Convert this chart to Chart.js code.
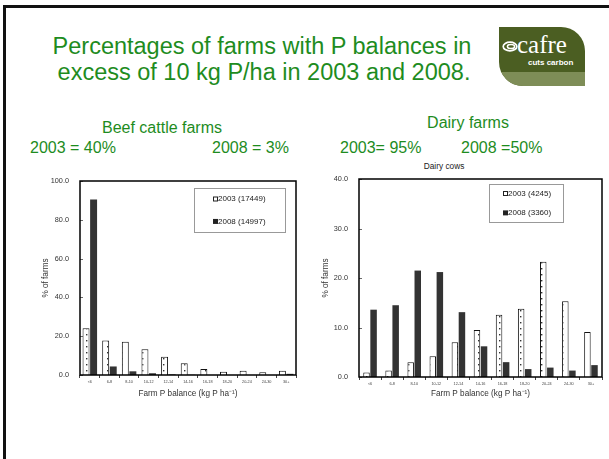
<!DOCTYPE html>
<html><head><meta charset="utf-8">
<script src="https://cdn.jsdelivr.net/npm/chart.js@4/dist/chart.umd.min.js"></script>
<style>
body{margin:0;width:609px;height:459px;overflow:hidden;background:#fff;font-family:"Liberation Sans",Arial,sans-serif;position:relative}
.frame{position:absolute;left:3px;top:5px;width:640px;height:480px;border-left:3px solid #111;border-top:3px solid #111}
.t{position:absolute;color:#1e8c1e;white-space:nowrap;line-height:1;transform:translate(-50%,-50%)}
.l{position:absolute;color:#1e8c1e;white-space:nowrap;line-height:1;transform:translateY(-50%)}
canvas{position:absolute}
.logo{position:absolute;left:499px;top:27px;width:86px;height:59px;background:#4b5e22;border-radius:0 24px 0 24px;overflow:hidden}
.band{position:absolute;left:0;bottom:0;width:100%;height:14px;background:#7e8d57}
</style></head>
<body>
<div class="frame"></div>
<div class="t" style="left:262px;top:47px;font-size:23.5px">Percentages of farms with P balances in</div>
<div class="t" style="left:264px;top:73px;font-size:23.5px">excess of 10 kg P/ha in 2003 and 2008.</div>
<div class="logo"><div class="band"></div>
<svg style="position:absolute;left:3px;top:14px" width="16" height="11" viewBox="0 0 16 11"><ellipse cx="8" cy="5.5" rx="6.8" ry="4.3" fill="none" stroke="#fff" stroke-width="1.7"/><ellipse cx="9" cy="5.5" rx="3.6" ry="2.1" fill="none" stroke="#fff" stroke-width="1.5"/></svg>
<div style="position:absolute;left:18px;top:5px;color:#fff;font-family:'Liberation Serif','DejaVu Serif',serif;font-size:25px;line-height:1">cafre</div>
<div style="position:absolute;left:29px;top:32px;color:#fff;font-weight:bold;font-size:8px;line-height:1">cuts carbon</div>
</div>
<div class="t" style="left:162px;top:128px;font-size:16px">Beef cattle farms</div>
<div class="l" style="left:30px;top:148px;font-size:16px">2003 = 40%</div>
<div class="l" style="left:212px;top:148px;font-size:16px">2008 = 3%</div>
<div class="t" style="left:468px;top:123px;font-size:16px">Dairy farms</div>
<div class="l" style="left:340px;top:148px;font-size:16px">2003= 95%</div>
<div class="l" style="left:461px;top:148px;font-size:16px">2008 =50%</div>
<div class="t" style="left:444px;top:166px;font-size:8.3px;color:#222">Dairy cows</div>
<canvas id="beef" width="285" height="235" style="left:20px;top:170px"></canvas>
<canvas id="dairy" width="309" height="235" style="left:300px;top:170px"></canvas>
<script>
const categories = ['<6','6-8','8-10','10-12','12-14','14-16','16-18','18-20','20-24','24-30','30+'];
const beef2003 = [24.1,17.8,17.1,13.3,9.4,6.0,3.1,1.7,2.2,1.4,2.2];
const beef2008 = [90.4,4.4,1.9,0.9,0.3,0.1,0,0,0,0,0.6];
const dairy2003 = [0.9,1.3,3.0,4.2,7.0,9.5,12.6,13.8,23.3,15.3,9.1];
const dairy2008 = [13.6,14.5,21.5,21.2,13.1,6.2,3.0,1.6,1.9,1.3,2.4];
const beefSeries = ['2003 (17449)','2008 (14997)'];
const dairySeries = ['2003 (4245)','2008 (3360)'];
const beefYMax = 100, beefYStep = 20;
const dairyYMax = 40, dairyYStep = 10;
const xTitle = 'Farm P balance (kg P ha\u207B\u00B9)';
const yTitle = '% of farms';

function dotPattern(){
  const c=document.createElement('canvas'); c.width=7; c.height=6;
  const g=c.getContext('2d');
  g.fillStyle='#fff'; g.fillRect(0,0,7,6);
  g.fillStyle='#333'; g.fillRect(3,2,1.4,1.4);
  return g.createPattern(c,'repeat');
}

const framePlugin = {
  id:'frameLegend',
  afterDatasetsDraw(chart, args, o){
    const ctx=chart.ctx, a=chart.chartArea, ys=chart.scales.y;
    ctx.save();
    ctx.strokeStyle='#444'; ctx.lineWidth=0.8;
    ys.ticks.forEach(t=>{const py=Math.round(ys.getPixelForValue(t.value))+0.5;
      ctx.beginPath(); ctx.moveTo(a.left,py); ctx.lineTo(a.left+3,py); ctx.stroke();});
    ctx.strokeStyle='#000'; ctx.lineWidth=1.5;
    ctx.strokeRect(a.left,a.top,a.right-a.left,a.bottom-a.top);
    const bx=a.right-o.right-o.w, by=a.top+o.top;
    ctx.fillStyle='#fff'; ctx.fillRect(bx,by,o.w,o.h);
    ctx.strokeStyle='#999'; ctx.lineWidth=1;
    ctx.strokeRect(bx+0.5,by+0.5,o.w,o.h);
    ctx.font='8px "Liberation Sans", Arial, sans-serif';
    ctx.textBaseline='middle';
    chart.data.datasets.forEach((ds,i)=>{
      const yy=by+o.h*(i===0?0.25:0.76);
      const sx=bx+o.sq;
      if(i===0){ctx.fillStyle='#fff';ctx.fillRect(sx,yy-2.5,5,5);ctx.strokeStyle='#222';ctx.strokeRect(sx+0.5,yy-2,4,4);}
      else {ctx.fillStyle='#222';ctx.fillRect(sx,yy-2.5,5,5);}
      ctx.fillStyle='#222'; ctx.fillText(ds.label,sx+5,yy);
    });
    ctx.restore();
  }
};

function makeChart(id, labels, d1, d2, names, yMax, yStep, L){
  const pat=dotPattern();
  return new Chart(document.getElementById(id),{
    type:'bar',
    data:{labels:labels,datasets:[
      {label:names[0],data:d1,backgroundColor:pat,borderColor:'#111',borderWidth:1,categoryPercentage:L.cat,barPercentage:0.92},
      {label:names[1],data:d2,backgroundColor:'#333',borderColor:'#222',borderWidth:0,categoryPercentage:L.cat,barPercentage:0.92}
    ]},
    options:{
      responsive:false,animation:false,
      layout:{padding:L.pad},
      plugins:{legend:{display:false},tooltip:{enabled:false},frameLegend:L.legend},
      scales:{
        x:{offset:true,
          grid:{offset:true,drawOnChartArea:false,drawTicks:true,tickLength:3,color:'#444'},
          border:{display:false},
          ticks:{autoSkip:false,maxRotation:0,minRotation:0,font:{size:3.8},color:'#444',padding:2},
          title:{display:true,text:xTitle,font:{size:8.2},color:'#333',padding:0},
          afterFit:s=>{s.height=L.xh;}},
        y:{min:0,max:yMax,
          ticks:{stepSize:yStep,font:{size:7.3},color:'#333',padding:3,callback:v=>v.toFixed(1)},
          grid:{display:false},
          border:{display:false},
          title:{display:true,text:yTitle,font:{size:8.2},color:'#333',padding:0},
          afterFit:s=>{s.width=L.yw;}}
      }
    },
    plugins:[framePlugin]
  });
}

makeChart('beef',categories,beef2003,beef2008,beefSeries,beefYMax,beefYStep,
  {cat:0.77,pad:{left:21,top:11,right:9,bottom:6},xh:24,yw:39,
   legend:{right:11,top:7,w:91,h:44,sq:19}});
makeChart('dairy',categories,dairy2003,dairy2008,dairySeries,dairyYMax,dairyYStep,
  {cat:0.64,pad:{left:21,top:9,right:7,bottom:6},xh:22,yw:38,
   legend:{right:39,top:5,w:74,h:38,sq:14}});
</script>
</body></html>
